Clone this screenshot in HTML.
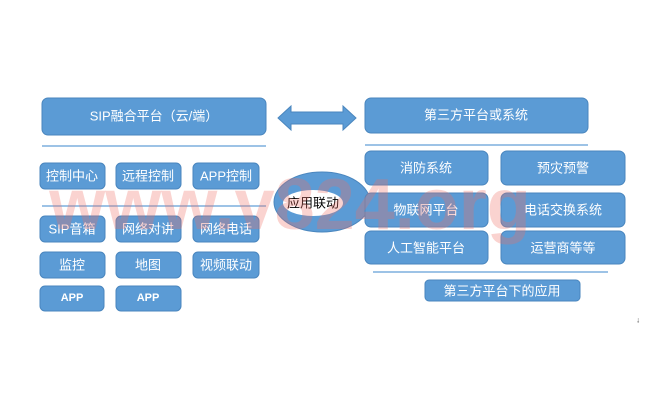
<!DOCTYPE html>
<html><head><meta charset="utf-8"><style>
body{margin:0;background:#fff;}
svg{display:block;}
text{font-family:"Liberation Sans","Noto Sans CJK SC",sans-serif;fill:#fff;text-anchor:middle;dominant-baseline:central;font-size:13px;}
.b{fill:#5b9bd5;stroke:#4a86be;stroke-width:1;}
.l{stroke:#9dc3e6;stroke-width:2;}
</style></head><body>
<svg width="650" height="406" viewBox="0 0 650 406">
<rect x="0" y="0" width="650" height="406" fill="#fff"/>
<rect class="b" x="42" y="98" width="224" height="37" rx="6"/><text x="154" y="116">SIP融合平台（云/端）</text>
<line class="l" x1="42" y1="146" x2="266" y2="146"/>
<rect class="b" x="40" y="163" width="65" height="26" rx="5"/><text x="72" y="176">控制中心</text>
<rect class="b" x="116" y="163" width="65" height="26" rx="5"/><text x="148" y="176">远程控制</text>
<rect class="b" x="193" y="163" width="66" height="26" rx="5"/><text x="226" y="176">APP控制</text>
<line class="l" x1="42" y1="206" x2="266" y2="206"/>
<rect class="b" x="40" y="216" width="65" height="26" rx="5"/><text x="72" y="229">SIP音箱</text>
<rect class="b" x="116" y="216" width="65" height="26" rx="5"/><text x="148" y="229">网络对讲</text>
<rect class="b" x="193" y="216" width="66" height="26" rx="5"/><text x="226" y="229">网络电话</text>
<rect class="b" x="40" y="252" width="65" height="26" rx="5"/><text x="72" y="265">监控</text>
<rect class="b" x="116" y="252" width="65" height="26" rx="5"/><text x="148" y="265">地图</text>
<rect class="b" x="193" y="252" width="66" height="26" rx="5"/><text x="226" y="265">视频联动</text>
<rect class="b" x="40" y="286" width="64" height="25" rx="5"/><text x="72" y="298" style="font-size:11px;font-weight:bold">APP</text>
<rect class="b" x="116" y="286" width="65" height="25" rx="5"/><text x="148" y="298" style="font-size:11px;font-weight:bold">APP</text>
<polygon class="b" points="278,118 291,106 291,112 343,112 343,106 356,118 343,130 343,124 291,124 291,130"/>
<ellipse cx="322" cy="202" rx="48" ry="30" fill="#5b9bd5" stroke="#4a86be"/>
<ellipse cx="313" cy="203" rx="30" ry="13" fill="#fff"/>
<text x="313" y="203" style="fill:#000">应用联动</text>
<rect class="b" x="365" y="98" width="223" height="35" rx="6"/><text x="476" y="115">第三方平台或系统</text>
<line class="l" x1="365" y1="145" x2="588" y2="145"/>
<rect class="b" x="365" y="151" width="123" height="34" rx="6"/><text x="426" y="168">消防系统</text>
<rect class="b" x="501" y="151" width="124" height="34" rx="6"/><text x="563" y="168">预灾预警</text>
<rect class="b" x="365" y="193" width="123" height="34" rx="6"/><text x="426" y="210">物联网平台</text>
<rect class="b" x="501" y="193" width="124" height="34" rx="6"/><text x="563" y="210">电话交换系统</text>
<rect class="b" x="365" y="231" width="123" height="33" rx="6"/><text x="426" y="248">人工智能平台</text>
<rect class="b" x="501" y="231" width="124" height="33" rx="6"/><text x="563" y="248">运营商等等</text>
<line class="l" x1="373" y1="272" x2="608" y2="272"/>
<rect class="b" x="425" y="280" width="155" height="21" rx="4"/><text x="502" y="291">第三方平台下的应用</text>
<text x="290" y="205" style="fill:rgba(240,110,100,0.3);font-size:72px;font-weight:bold">www.v824.org</text>
<text x="638" y="320" style="fill:#555;font-size:8px">↓</text>
</svg>
</body></html>
